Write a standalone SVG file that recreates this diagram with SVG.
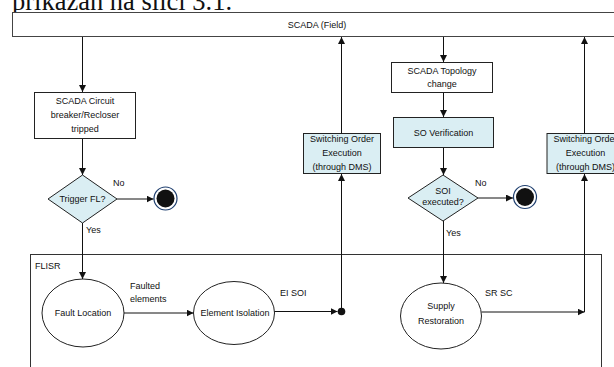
<svg xmlns="http://www.w3.org/2000/svg" width="614" height="367" viewBox="0 0 614 367">
<defs>
<style>
.t{font-family:"Liberation Sans",Arial,sans-serif;font-size:9px;fill:#111;text-anchor:middle}
.l{font-family:"Liberation Sans",Arial,sans-serif;font-size:9px;fill:#111}
.box{fill:#fff;stroke:#222;stroke-width:1}
.blue{fill:#daeef3;stroke:#222;stroke-width:1}
.c{fill:none;stroke:#111;stroke-width:1}
</style>
<marker id="ah" viewBox="0 0 10 10" refX="10" refY="5" markerWidth="7" markerHeight="7" markerUnits="userSpaceOnUse" orient="auto">
<path d="M0,0 L10,5 L0,10 z" fill="#111"/>
</marker>
</defs>
<rect width="614" height="367" fill="#fff"/>
<text x="12" y="10" style="font-family:'Liberation Serif','Times New Roman',serif;font-size:26.5px;fill:#111">prikazan na slici 3.1.</text>

<g id="scada-field">
<rect class="box" x="12.5" y="12.5" width="610" height="24" style="stroke:#444"/>
<text class="t" x="317" y="27.5">SCADA (Field)</text>
</g>

<g id="flisr">
<rect x="30.5" y="254.5" width="571" height="200" fill="none" stroke="#333" stroke-width="1"/>
<text class="l" x="35" y="269">FLISR</text>
</g>

<g id="cb-tripped">
<rect class="box" x="34.5" y="92.5" width="101" height="46"/>
<text class="t" x="85" y="104">SCADA Circuit</text>
<text class="t" x="85" y="118">breaker/Recloser</text>
<text class="t" x="85" y="132">tripped</text>
</g>

<g id="trigger-fl">
<polygon class="blue" points="82.5,175 117,199 82.5,223 48,199"/>
<text class="t" x="82.5" y="202">Trigger FL?</text>
</g>

<g id="end1">
<circle cx="165.5" cy="198.5" r="11.5" fill="#fff" stroke="#1f3f6f" stroke-width="1.2"/>
<circle cx="165.5" cy="198.5" r="9" fill="#111"/>
</g>

<g id="fault-location">
<ellipse cx="83" cy="313" rx="41" ry="34" class="box"/>
<text class="t" x="83" y="316">Fault Location</text>
</g>

<g id="element-isolation">
<ellipse cx="234" cy="313" rx="40.5" ry="31.5" class="box"/>
<text class="t" x="235" y="316">Element Isolation</text>
</g>

<g id="junction">
<circle cx="341.5" cy="311.5" r="3.8" fill="#111"/>
</g>

<g id="so-exec-1">
<rect class="blue" x="303.5" y="133.5" width="77" height="40"/>
<text class="t" x="342" y="142">Switching Order</text>
<text class="t" x="342" y="156">Execution</text>
<text class="t" x="342" y="170">(through DMS)</text>
</g>

<g id="topology-change">
<rect class="box" x="391.5" y="62.5" width="101" height="30"/>
<text class="t" x="442" y="74">SCADA Topology</text>
<text class="t" x="442" y="87">change</text>
</g>

<g id="so-verification">
<rect class="blue" x="393.5" y="117.5" width="100" height="30"/>
<text class="t" x="443.5" y="135.5">SO Verification</text>
</g>

<g id="soi-executed">
<polygon class="blue" points="443,175 478,198 443,221 408,198"/>
<text class="t" x="443" y="194">SOI</text>
<text class="t" x="443" y="205">executed?</text>
</g>

<g id="end2">
<circle cx="525" cy="197" r="11.5" fill="#fff" stroke="#1f3f6f" stroke-width="1.2"/>
<circle cx="525" cy="197" r="9" fill="#111"/>
</g>

<g id="supply-restoration">
<ellipse cx="441" cy="316" rx="40.5" ry="33" class="box"/>
<text class="t" x="441" y="309">Supply</text>
<text class="t" x="441" y="324">Restoration</text>
</g>

<g id="so-exec-2">
<rect class="blue" x="547" y="133.5" width="77" height="40"/>
<text class="t" x="585.5" y="142">Switching Order</text>
<text class="t" x="585.5" y="156">Execution</text>
<text class="t" x="585.5" y="170">(through DMS)</text>
</g>

<g id="connectors">
<line class="c" x1="82.5" y1="37" x2="82.5" y2="92" marker-end="url(#ah)"/>
<line class="c" x1="82.5" y1="139" x2="82.5" y2="175" marker-end="url(#ah)"/>
<line class="c" x1="117" y1="199" x2="153.5" y2="199" marker-end="url(#ah)"/>
<line class="c" x1="82.5" y1="223" x2="82.5" y2="279" marker-end="url(#ah)"/>
<line class="c" x1="124" y1="313" x2="193.5" y2="313" marker-end="url(#ah)"/>
<line class="c" x1="274.5" y1="311.5" x2="337.5" y2="311.5" marker-end="url(#ah)"/>
<line class="c" x1="341.5" y1="311.5" x2="341.5" y2="174" marker-end="url(#ah)"/>
<line class="c" x1="341.5" y1="133.5" x2="341.5" y2="37" marker-end="url(#ah)"/>
<line class="c" x1="443.5" y1="37" x2="443.5" y2="62" marker-end="url(#ah)"/>
<line class="c" x1="443.5" y1="93" x2="443.5" y2="117" marker-end="url(#ah)"/>
<line class="c" x1="443.5" y1="148" x2="443.5" y2="175" marker-end="url(#ah)"/>
<line class="c" x1="478" y1="198" x2="513" y2="198" marker-end="url(#ah)"/>
<line class="c" x1="443.5" y1="221" x2="443.5" y2="283" marker-end="url(#ah)"/>
<line class="c" x1="481.5" y1="312" x2="584.5" y2="312" marker-end="url(#ah)"/>
<line class="c" x1="584.5" y1="312" x2="584.5" y2="174" marker-end="url(#ah)"/>
<line class="c" x1="584.5" y1="133.5" x2="584.5" y2="37" marker-end="url(#ah)"/>
<text class="l" x="113" y="186">No</text>
<text class="l" x="86" y="233">Yes</text>
<text class="l" x="130" y="289">Faulted</text>
<text class="l" x="130" y="302">elements</text>
<text class="l" x="280" y="296">EI SOI</text>
<text class="l" x="475" y="186">No</text>
<text class="l" x="446" y="236">Yes</text>
<text class="l" x="485" y="296">SR SC</text>
</g>
</svg>
